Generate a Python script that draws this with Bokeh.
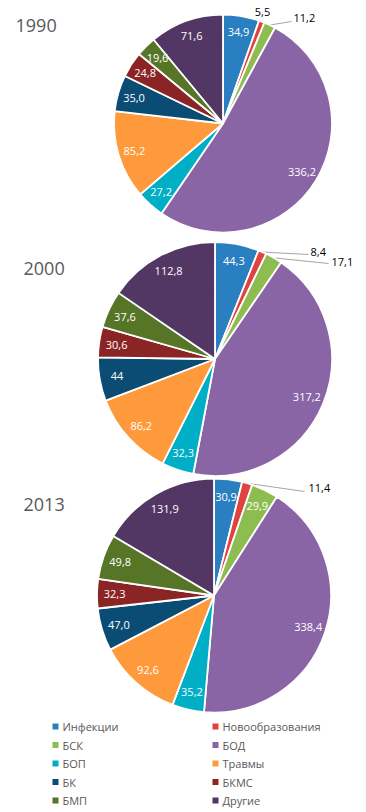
import math
from bokeh.plotting import figure
from bokeh.models import Range1d, ColumnDataSource
from bokeh.core.properties import value
from bokeh.embed import file_html
from bokeh.resources import INLINE

# ---------------- data ----------------
categories = ["Инфекции", "Новообразования", "БСК", "БОД", "БОП",
              "Травмы", "БК", "БКМС", "БМП", "Другие"]
colors = ["#2A7FC0", "#E0433F", "#8DBC51", "#8A65A5", "#00AEC6",
          "#FE9A3B", "#0B4C74", "#8B2525", "#567527", "#523764"]
years = ["1990", "2000", "2013"]
values_1990 = [34.9, 5.5, 11.2, 336.2, 27.2, 85.2, 35.0, 24.8, 19.6, 71.6]
labels_1990 = ["34,9", "5,5", "11,2", "336,2", "27,2", "85,2", "35,0", "24,8", "19,6", "71,6"]
values_2000 = [44.3, 8.4, 17.1, 317.2, 32.3, 86.2, 44.0, 30.6, 37.6, 112.8]
labels_2000 = ["44,3", "8,4", "17,1", "317,2", "32,3", "86,2", "44", "30,6", "37,6", "112,8"]
values_2013 = [30.9, 11.4, 29.9, 338.4, 35.2, 92.6, 47.0, 32.3, 49.8, 131.9]
labels_2013 = ["30,9", "11,4", "29,9", "338,4", "35,2", "92,6", "47,0", "32,3", "49,8", "131,9"]

# ---------------- layout ----------------
W, H = 366, 812
FONT = "Open Sans"


def X(px):
    return px


def Y(py):
    return H - py


pies = [
    dict(year=years[0], vals=values_1990, labs=labels_1990, cx=222.5, cy=123, r=109,
         title=(15, 25),
         outside={1: dict(text=(262, 11), align="center", line=None),
                  2: dict(text=(293, 17), align="left", line=(291, 21))}),
    dict(year=years[1], vals=values_2000, labs=labels_2000, cx=214.5, cy=358.5, r=117,
         title=(23, 268),
         outside={1: dict(text=(310, 251), align="left", line=(308, 254)),
                  2: dict(text=(331, 261), align="left", line=(328, 263))}),
    dict(year=years[2], vals=values_2013, labs=labels_2013, cx=213.5, cy=595, r=117,
         title=(23, 504),
         outside={1: dict(text=(308, 487), align="left", line=(304, 491))}),
]

p = figure(width=W, height=H, x_range=Range1d(0, W), y_range=Range1d(0, H),
           output_backend="svg", toolbar_location=None,
           x_axis_type=None, y_axis_type=None, min_border=0)
p.grid.visible = False
p.outline_line_color = None
p.background_fill_color = "white"
p.border_fill_color = "white"

for pie in pies:
    vals = pie["vals"]
    total = sum(vals)
    cx, cy, R = X(pie["cx"]), Y(pie["cy"]), pie["r"]
    starts, ends, lx, ly, ltxt = [], [], [], [], []
    cum = 0.0
    for i, v in enumerate(vals):
        a0 = math.pi / 2 - 2 * math.pi * cum / total
        a1 = math.pi / 2 - 2 * math.pi * (cum + v) / total
        am = math.pi / 2 - 2 * math.pi * (cum + v / 2) / total
        starts.append(a0)
        ends.append(a1)
        cum += v
        if i in pie["outside"]:
            o = pie["outside"][i]
            if o["line"] is not None:
                ex, ey = cx + R * math.cos(am), cy + R * math.sin(am)
                p.line([ex, X(o["line"][0])], [ey, Y(o["line"][1])],
                       line_color="#A6A6A6", line_width=1)
            p.text(x=[X(o["text"][0])], y=[Y(o["text"][1])], text=[pie["labs"][i]],
                   text_font=value(FONT), text_font_size="11px", text_color="#000000",
                   text_align=o["align"], text_baseline="middle")
        else:
            f = 0.85
            lx.append(cx + f * R * math.cos(am))
            ly.append(cy + f * R * math.sin(am))
            ltxt.append(pie["labs"][i])
    src = ColumnDataSource(dict(start=starts, end=ends, color=colors))
    p.wedge(x=cx, y=cy, radius=R, start_angle="start", end_angle="end",
            direction="clock", fill_color="color", line_color="white",
            line_width=1.8, source=src)
    p.text(x=lx, y=ly, text=ltxt, text_font=value(FONT), text_font_size="11px",
           text_color="white", text_align="center", text_baseline="middle")
    tx, ty = pie["title"]
    p.text(x=[X(tx)], y=[Y(ty)], text=[pie["year"]], text_font=value(FONT),
           text_font_size="18px", text_color="#595959", text_align="left",
           text_baseline="alphabetic")

# ---------------- legend ----------------
col_sq = [55, 215]
col_tx = [62, 222]
row0, row_step = 726, 18.5
sx, sy, tx, ty = [], [], [], []
for i, c in enumerate(categories):
    col, row = i % 2, i // 2
    yy = Y(row0 + row * row_step)
    sx.append(X(col_sq[col]))
    sy.append(yy)
    tx.append(X(col_tx[col]))
    ty.append(yy)
p.scatter(x=sx, y=sy, marker="square", size=6, fill_color=colors, line_color=None)
p.text(x=tx, y=ty, text=categories, text_font=value(FONT), text_font_size="11px",
       text_color="#595959", text_align="left", text_baseline="middle")

open("out.html", "w").write(file_html(p, INLINE))
